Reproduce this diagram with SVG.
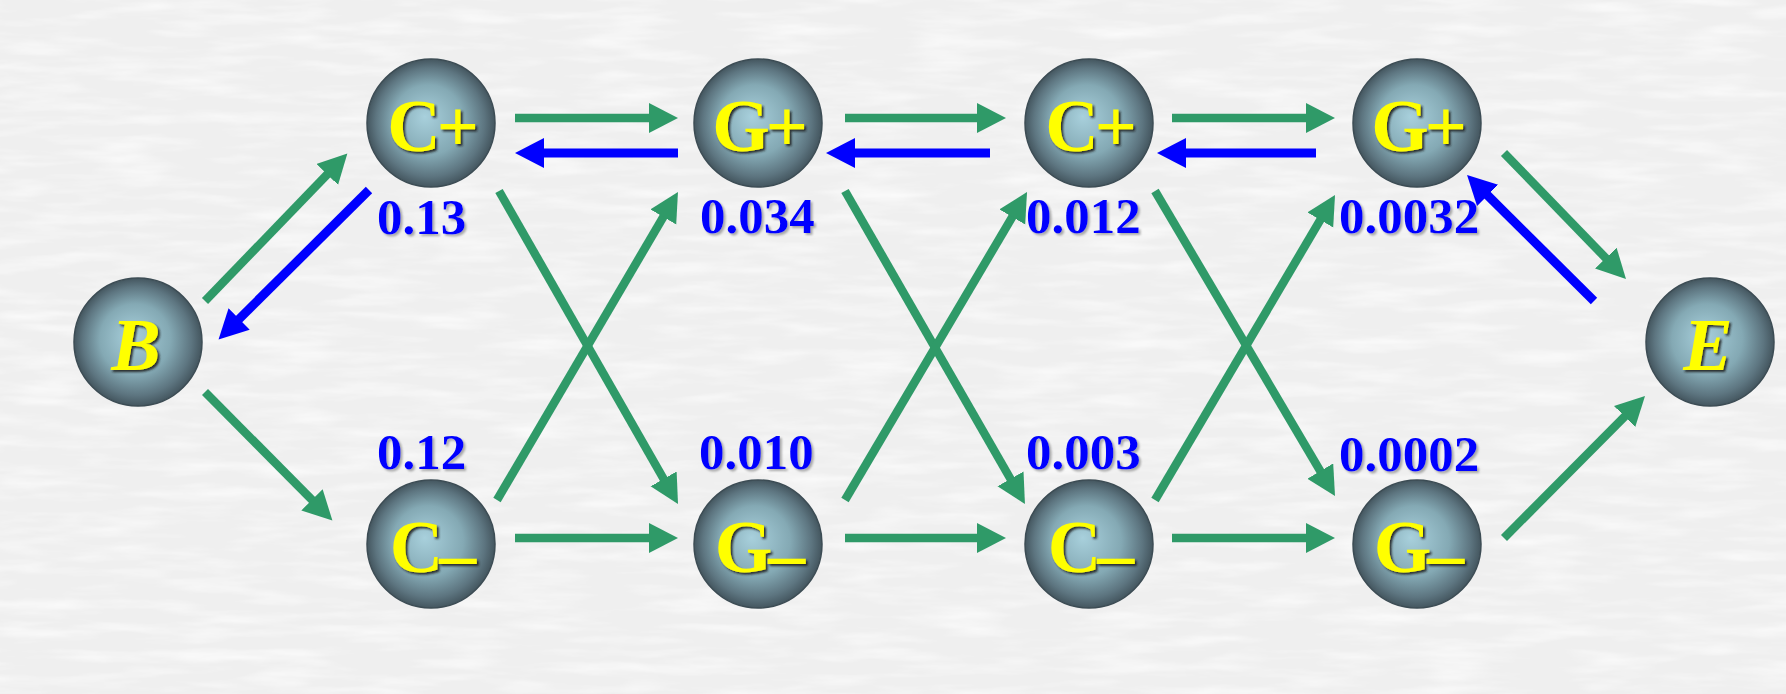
<svg xmlns="http://www.w3.org/2000/svg" width="1786" height="694" viewBox="0 0 1786 694">
<style>
.g{stroke:#2f9a68;stroke-width:8.5;fill:none;marker-end:url(#ag)}
.b{stroke:#0000ff;stroke-width:9;fill:none;marker-end:url(#ab)}
.ball{fill:url(#rg);stroke:#3c4c54;stroke-width:1.5}
.nl{font-family:"Liberation Serif","Times New Roman",serif;font-weight:bold;font-size:74px;fill:#ffff00;text-anchor:middle;letter-spacing:-4px;filter:url(#ts)}
.it{font-style:italic;letter-spacing:0}
.num{font-family:"Liberation Serif","Times New Roman",serif;font-weight:bold;font-size:51px;fill:#0000ff;filter:url(#ns)}
</style>
<defs>
<radialGradient id="rg" cx="50%" cy="50%" r="50%" fx="45%" fy="45%">
<stop offset="0" stop-color="#a8d0dc"/>
<stop offset="0.55" stop-color="#84a9b4"/>
<stop offset="0.85" stop-color="#5d7580"/>
<stop offset="1" stop-color="#44565f"/>
</radialGradient>
<filter id="ts" x="-20%" y="-20%" width="140%" height="140%">
<feDropShadow dx="2" dy="2" stdDeviation="0.8" flood-color="#1a1a1a" flood-opacity="0.9"/>
</filter>
<filter id="ns" x="-10%" y="-20%" width="120%" height="140%">
<feDropShadow dx="2" dy="2" stdDeviation="1" flood-color="#888" flood-opacity="0.7"/>
</filter>
<filter id="tex" x="0" y="0" width="100%" height="100%">
<feTurbulence type="fractalNoise" baseFrequency="0.012 0.08" numOctaves="3" seed="4"/>
<feColorMatrix type="matrix" values="0 0 0 0 1  0 0 0 0 1  0 0 0 0 1  0 0 0 1.4 -0.6"/>
</filter>
<marker id="ag" markerUnits="userSpaceOnUse" markerWidth="32" markerHeight="32" refX="3" refY="15" orient="auto">
<path d="M0,0 L29,15 L0,30 z" fill="#2f9a68"/>
</marker>
<marker id="ab" markerUnits="userSpaceOnUse" markerWidth="32" markerHeight="32" refX="3" refY="15" orient="auto">
<path d="M0,0 L29,15 L0,30 z" fill="#0000ff"/>
</marker>
</defs>
<rect width="1786" height="694" fill="#efefef"/>
<rect width="1786" height="694" fill="#fff" filter="url(#tex)"/>
<g id="connectors">
<line class="g" x1="205" y1="301" x2="329.3" y2="172.3"/>
<line class="b" x1="369" y1="190" x2="237" y2="321.1"/>
<line class="g" x1="205" y1="392" x2="314.1" y2="502"/>
<line class="g" x1="515" y1="118" x2="652" y2="118"/>
<line class="b" x1="678" y1="153" x2="541" y2="153"/>
<line class="g" x1="515" y1="538" x2="652" y2="538"/>
<line class="g" x1="499" y1="191" x2="665.1" y2="481.5"/>
<line class="g" x1="497" y1="500" x2="664.8" y2="214.4"/>
<line class="g" x1="845" y1="118" x2="980" y2="118"/>
<line class="b" x1="990" y1="153" x2="852" y2="153"/>
<line class="g" x1="845" y1="538" x2="980" y2="538"/>
<line class="g" x1="845" y1="191" x2="1012" y2="481.5"/>
<line class="g" x1="845" y1="500" x2="1013.8" y2="214.4"/>
<line class="g" x1="1172" y1="118" x2="1309" y2="118"/>
<line class="b" x1="1316" y1="153" x2="1183" y2="153"/>
<line class="g" x1="1172" y1="538" x2="1309" y2="538"/>
<line class="g" x1="1155" y1="191" x2="1321.8" y2="473.6"/>
<line class="g" x1="1155" y1="500" x2="1321.8" y2="217.4"/>
<line class="g" x1="1504" y1="153" x2="1607.9" y2="260.3"/>
<line class="b" x1="1594" y1="301" x2="1485.5" y2="193.3"/>
<line class="g" x1="1504" y1="538" x2="1626.7" y2="414.4"/>
</g>
<g id="node-B"><circle class="ball" cx="138" cy="342" r="64"/><text class="nl it" x="136" y="370">B</text></g>
<g id="node-C1p"><circle class="ball" cx="431" cy="123" r="64"/><text class="nl" x="431" y="151">C+</text><text class="num" x="377" y="234">0.13</text></g>
<g id="node-C1m"><circle class="ball" cx="431" cy="544" r="64"/><text class="nl" x="431" y="572">C<tspan dy="7">–</tspan></text><text class="num" x="377" y="469">0.12</text></g>
<g id="node-G2p"><circle class="ball" cx="758" cy="123" r="64"/><text class="nl" x="758" y="151">G+</text><text class="num" x="700" y="233">0.034</text></g>
<g id="node-G2m"><circle class="ball" cx="758" cy="544" r="64"/><text class="nl" x="758" y="572">G<tspan dy="7">–</tspan></text><text class="num" x="699" y="469">0.010</text></g>
<g id="node-C3p"><circle class="ball" cx="1089" cy="123" r="64"/><text class="nl" x="1089" y="151">C+</text><text class="num" x="1026" y="233">0.012</text></g>
<g id="node-C3m"><circle class="ball" cx="1089" cy="544" r="64"/><text class="nl" x="1089" y="572">C<tspan dy="7">–</tspan></text><text class="num" x="1026" y="469">0.003</text></g>
<g id="node-G4p"><circle class="ball" cx="1417" cy="123" r="64"/><text class="nl" x="1417" y="151">G+</text><text class="num" x="1339" y="233">0.0032</text></g>
<g id="node-G4m"><circle class="ball" cx="1417" cy="544" r="64"/><text class="nl" x="1417" y="572">G<tspan dy="7">–</tspan></text><text class="num" x="1339" y="471">0.0002</text></g>
<g id="node-E"><circle class="ball" cx="1710" cy="342" r="64"/><text class="nl it" x="1708" y="370">E</text></g>
</svg>
